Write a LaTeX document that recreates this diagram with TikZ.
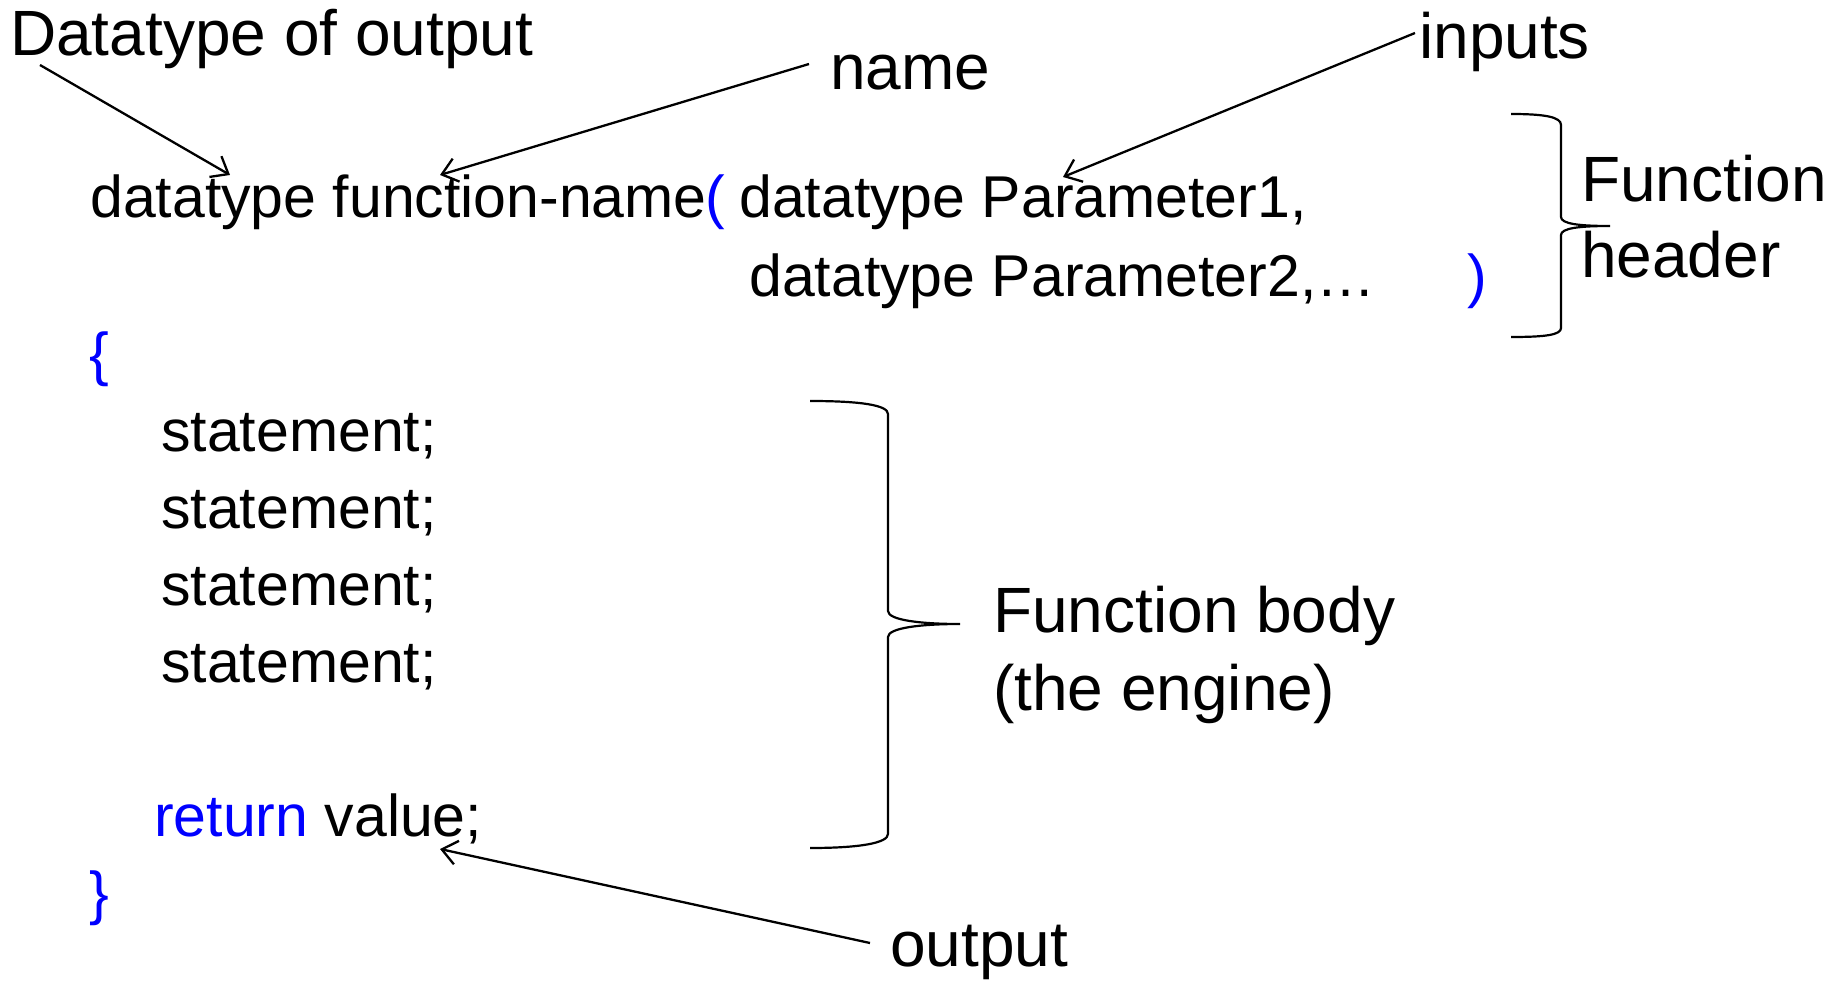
\documentclass[tikz,border=0pt]{standalone}
\usepackage{fontspec}
\setmainfont{Liberation Sans}
\usetikzlibrary{arrows.meta}
\definecolor{kwblue}{RGB}{0,0,255}
\begin{document}
\begin{tikzpicture}[x=1pt,y=-1pt,
  code/.style={anchor=base west,inner sep=0pt,font=\fontsize{59}{70}\selectfont},
  kw/.style={code,text=kwblue},
  lbl/.style={anchor=base west,inner sep=0pt,font=\fontsize{64}{76}\selectfont},
  ptr/.style={line width=2.3pt,-{Straight Barb[length=15pt,width=24pt,line width=2.3pt]}},
  bracestyle/.style={line width=2.2pt}]
\useasboundingbox (0,0) rectangle (1830,981);

% labels
\node[lbl] (ldt) at (10,56) {Datatype of output};
\node[lbl] (lname) at (830,90) {name};
\node[lbl] (linp) at (1419,59) {inputs};
\node[lbl] (lout) at (890,966) {output};
\node[lbl] (lbody1) at (993,632) {Function body};
\node[lbl] (lbody2) at (993,710) {(the engine)};
\node[lbl] (lhead1) at (1581,202) {Function};
\node[lbl] (lhead2) at (1581,278) {header};

% code
\node[code] (l1) at (90,218) {datatype function-name};
\node[kw] (lpar) at (705,218) {(};
\node[code] (p1) at (739,218) {datatype Parameter1,};
\node[code] (p2) at (749,297) {datatype Parameter2,…};
\node[kw] (rpar) at (1467,297) {)};
\node[kw] (lbr) at (89,374) {\{};
\node[code] (s1) at (161,451) {statement;};
\node[code] (s2) at (161,528) {statement;};
\node[code] (s3) at (161,605) {statement;};
\node[code] (s4) at (161,682) {statement;};
\node[code] (ret) at (154,836) {\textcolor{kwblue}{return} value;};
\node[kw] (rbr) at (89,913) {\}};

% arrow end points
\coordinate (a1s) at (40,65);
\coordinate (a1e) at (230,175);
\coordinate (a2s) at (809,64);
\coordinate (a2e) at (440,175);
\coordinate (a3s) at (1415,33);
\coordinate (a3e) at (1063,177);
\coordinate (a4s) at (870,943);
\coordinate (a4e) at (440,849);

\draw[ptr] (a1s) -- (a1e);
\draw[ptr] (a2s) -- (a2e);
\draw[ptr] (a3s) -- (a3e);
\draw[ptr] (a4s) -- (a4e);

% header brace
\coordinate (hb1) at (1511,114);
\coordinate (hbt) at (1610,226);
\coordinate (hb2) at (1511,337);
\draw[bracestyle] (hb1) .. controls (1545,114) and (1561,117) .. (1561,125)
  -- (1561,217) .. controls (1561,224) and (1580,226) .. (hbt)
  .. controls (1580,226) and (1561,228) .. (1561,235)
  -- (1561,328) .. controls (1561,335) and (1545,337) .. (hb2);

% body brace
\coordinate (bb1) at (810,401);
\coordinate (bbt) at (960,624);
\coordinate (bb2) at (810,848);
\draw[bracestyle] (bb1) .. controls (860,401) and (888,405) .. (888,414)
  -- (888,611) .. controls (888,620) and (920,624) .. (bbt)
  .. controls (920,624) and (888,628) .. (888,637)
  -- (888,834) .. controls (888,843) and (860,848) .. (bb2);
\end{tikzpicture}
\end{document}
